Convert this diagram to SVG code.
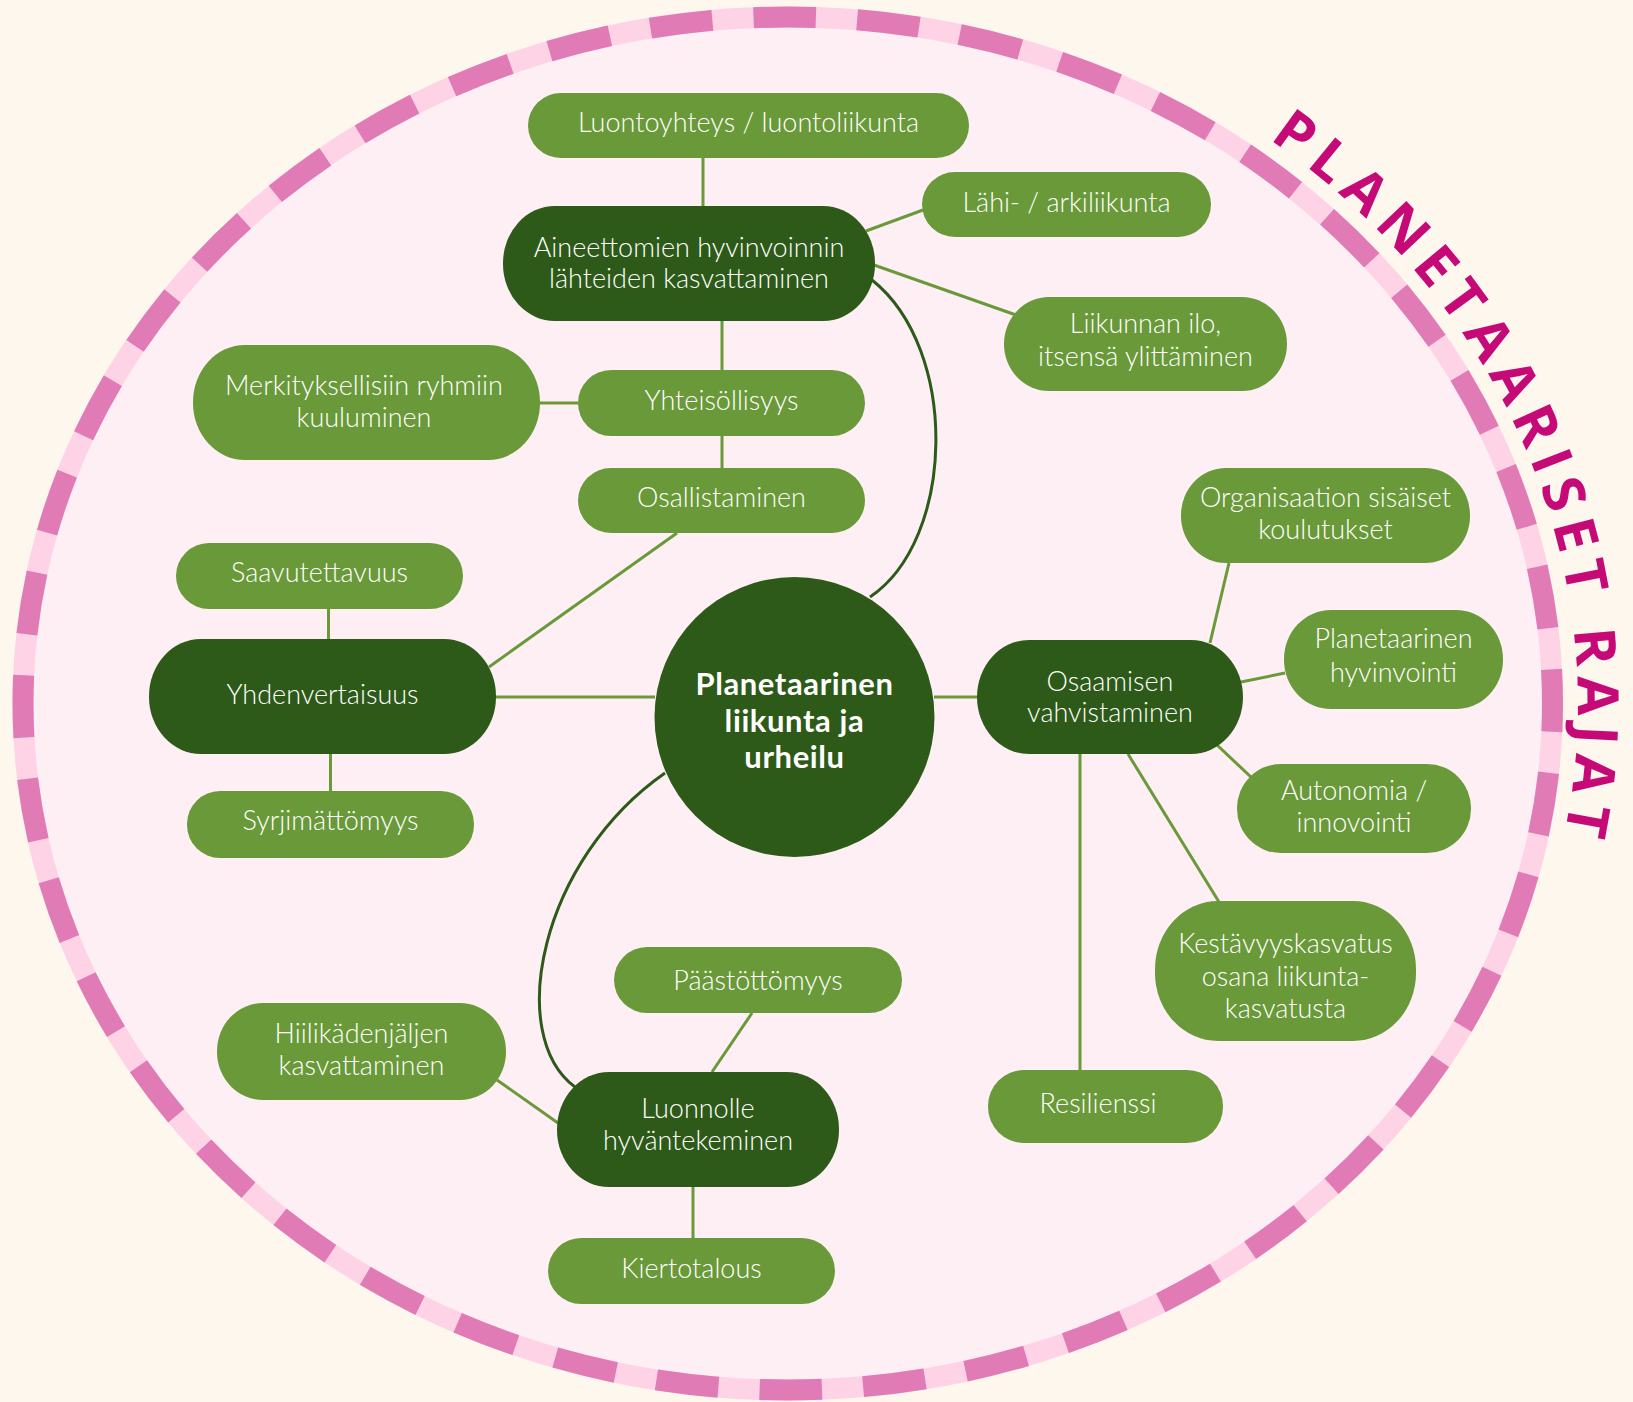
<svg xmlns="http://www.w3.org/2000/svg" width="1633" height="1402" viewBox="0 0 1633 1402">
<style>
.lt{fill:#699938}
.dk{fill:#2D5A18}
.t{font-family:Lato,"Liberation Sans",sans-serif;font-size:27px;font-weight:300;fill:#ffffff;text-anchor:middle}
.tb{font-family:Lato,"Liberation Sans",sans-serif;font-size:31px;font-weight:700;letter-spacing:0.6px;fill:#ffffff;text-anchor:middle}
.ln{stroke:#699938;stroke-width:3;fill:none}
.cv{stroke:#2D5A18;stroke-width:3;fill:none}
</style>
<defs>
<path id="tp" d="M 787.75 -8 A 790 711.5 0 0 1 787.75 1415 A 790 711.5 0 0 1 787.75 -8"/>
</defs>
<rect width="1633" height="1402" fill="#FEF7EE"/>
<g id="boundary">
<ellipse cx="787.75" cy="703.5" rx="764.75" ry="686.5" fill="#FEEFF4" stroke="#FFD3E6" stroke-width="21"/>
<path d="M 787.75 17 A 764.75 686.5 0 0 1 787.75 1390 A 764.75 686.5 0 0 1 787.75 17 Z" fill="none" stroke="#E07BB5" stroke-width="21" pathLength="4532" stroke-dasharray="62 41" stroke-dashoffset="34"/>
<text font-family="'Open Sans','DejaVu Sans',sans-serif" font-size="57" font-weight="700" fill="#C50A78"><textPath href="#tp" startOffset="511" textLength="800" lengthAdjust="spacing">PLANETAARISET RAJAT</textPath></text>
</g>
<g id="connectors">
<path class="cv" d="M 870 597 C 955 540, 960 350, 872 280"/>
<path class="cv" d="M 665 773 C 540 860, 505 1035, 575 1087"/>
<line class="ln" x1="703" y1="158" x2="703" y2="206"/>
<line class="ln" x1="866" y1="231" x2="923" y2="210"/>
<line class="ln" x1="874" y1="265" x2="1016" y2="315"/>
<line class="ln" x1="722" y1="321" x2="722" y2="370"/>
<line class="ln" x1="540" y1="403" x2="578" y2="403"/>
<line class="ln" x1="722" y1="436" x2="722" y2="468"/>
<line class="ln" x1="677" y1="533" x2="489" y2="667"/>
<line class="ln" x1="496" y1="697" x2="655" y2="697"/>
<line class="ln" x1="328.5" y1="609" x2="328.5" y2="639"/>
<line class="ln" x1="330.5" y1="754" x2="330.5" y2="791"/>
<line class="ln" x1="934" y1="697" x2="978" y2="697"/>
<line class="ln" x1="1210" y1="643" x2="1229" y2="563"/>
<line class="ln" x1="1241" y1="682" x2="1285" y2="673"/>
<line class="ln" x1="1217" y1="745" x2="1252" y2="778"/>
<line class="ln" x1="1128" y1="754" x2="1219" y2="902"/>
<line class="ln" x1="1080" y1="754" x2="1080" y2="1070"/>
<line class="ln" x1="752" y1="1013" x2="712" y2="1072"/>
<line class="ln" x1="497" y1="1080" x2="558" y2="1123"/>
<line class="ln" x1="693" y1="1187" x2="693" y2="1238"/>
</g>
<g id="n-center"><circle class="dk" cx="794.5" cy="717" r="140"/>
<text class="tb" x="794.5" y="695">Planetaarinen</text><text class="tb" x="794.5" y="732">liikunta ja</text><text class="tb" x="794.5" y="768">urheilu</text></g>
<g id="n-luontoyhteys"><rect class="lt" x="528" y="93" width="441" height="65" rx="33"/><text class="t" x="748.5" y="132">Luontoyhteys / luontoliikunta</text></g>
<g id="n-aineettomien"><rect class="dk" x="503" y="206" width="372" height="115" rx="52" ry="57"/><text class="t" x="689" y="257">Aineettomien hyvinvoinnin</text><text class="t" x="689" y="288">lähteiden kasvattaminen</text></g>
<g id="n-lahi"><rect class="lt" x="922" y="172" width="289" height="65" rx="33"/><text class="t" x="1066.5" y="212">Lähi- / arkiliikunta</text></g>
<g id="n-liikunnanilo"><rect class="lt" x="1004" y="297" width="283" height="94" rx="45" ry="47"/><text class="t" x="1145.5" y="333">Liikunnan ilo,</text><text class="t" x="1145.5" y="366">itsensä ylittäminen</text></g>
<g id="n-yhteisollisyys"><rect class="lt" x="578" y="370" width="287" height="66" rx="33"/><text class="t" x="721.5" y="410">Yhteisöllisyys</text></g>
<g id="n-merkityksellisiin"><rect class="lt" x="193" y="345" width="347" height="115" rx="52" ry="57"/><text class="t" x="364" y="395">Merkityksellisiin ryhmiin</text><text class="t" x="364" y="427">kuuluminen</text></g>
<g id="n-osallistaminen"><rect class="lt" x="578" y="468" width="287" height="65" rx="33"/><text class="t" x="721.5" y="507">Osallistaminen</text></g>
<g id="n-saavutettavuus"><rect class="lt" x="176" y="543" width="287" height="66" rx="33"/><text class="t" x="319.5" y="582">Saavutettavuus</text></g>
<g id="n-yhdenvertaisuus"><rect class="dk" x="149" y="639" width="347" height="115" rx="52" ry="57"/><text class="t" x="322.5" y="704">Yhdenvertaisuus</text></g>
<g id="n-syrjimattomyys"><rect class="lt" x="187" y="791" width="287" height="67" rx="33"/><text class="t" x="330.5" y="830">Syrjimättömyys</text></g>
<g id="n-paastottomyys"><rect class="lt" x="614" y="947" width="288" height="66" rx="33"/><text class="t" x="758" y="990">Päästöttömyys</text></g>
<g id="n-hiilikadenjaljen"><rect class="lt" x="217" y="1003" width="289" height="97" rx="46" ry="48"/><text class="t" x="361.5" y="1043">Hiilikädenjäljen</text><text class="t" x="361.5" y="1075">kasvattaminen</text></g>
<g id="n-luonnolle"><rect class="dk" x="557" y="1072" width="282" height="115" rx="52" ry="57"/><text class="t" x="698" y="1118">Luonnolle</text><text class="t" x="698" y="1150">hyväntekeminen</text></g>
<g id="n-kiertotalous"><rect class="lt" x="548" y="1238" width="287" height="66" rx="33"/><text class="t" x="691.5" y="1278">Kiertotalous</text></g>
<g id="n-organisaation"><rect class="lt" x="1181" y="468" width="289" height="95" rx="45" ry="47"/><text class="t" x="1325.5" y="507">Organisaation sisäiset</text><text class="t" x="1325.5" y="539">koulutukset</text></g>
<g id="n-planetaarinen"><rect class="lt" x="1284" y="610" width="219" height="99" rx="47" ry="49"/><text class="t" x="1393.5" y="648">Planetaarinen</text><text class="t" x="1393.5" y="682">hyvinvointi</text></g>
<g id="n-osaamisen"><rect class="dk" x="977" y="640" width="266" height="114" rx="52" ry="57"/><text class="t" x="1110" y="691">Osaamisen</text><text class="t" x="1110" y="722">vahvistaminen</text></g>
<g id="n-autonomia"><rect class="lt" x="1237" y="764" width="234" height="89" rx="44"/><text class="t" x="1354" y="800">Autonomia /</text><text class="t" x="1354" y="832">innovointi</text></g>
<g id="n-kestavyys"><rect class="lt" x="1155" y="901" width="261" height="140" rx="63" ry="68"/><text class="t" x="1285.5" y="953">Kestävyyskasvatus</text><text class="t" x="1285.5" y="986">osana liikunta-</text><text class="t" x="1285.5" y="1018">kasvatusta</text></g>
<g id="n-resilienssi"><rect class="lt" x="988" y="1070" width="235" height="73" rx="36"/><text class="t" x="1098" y="1113">Resilienssi</text></g>
</svg>
